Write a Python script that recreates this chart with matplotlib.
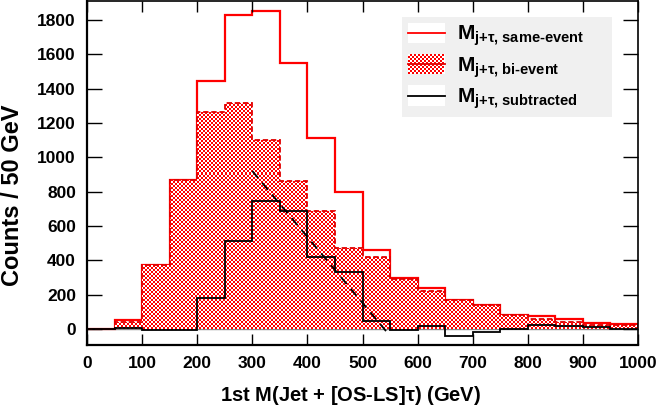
import numpy as np
import matplotlib
matplotlib.use('Agg')
import matplotlib.pyplot as plt
from matplotlib.colors import ListedColormap
from matplotlib.patches import Rectangle
from matplotlib.collections import PatchCollection
from matplotlib.lines import Line2D
from matplotlib.legend_handler import HandlerBase

plt.rcParams['font.family'] = ['Liberation Sans', 'DejaVu Sans']
plt.rcParams['font.weight'] = 'bold'
plt.rcParams['mathtext.fontset'] = 'custom'
plt.rcParams['mathtext.rm'] = 'Liberation Sans:bold'
plt.rcParams['mathtext.it'] = 'Liberation Sans:bold'
plt.rcParams['mathtext.bf'] = 'Liberation Sans:bold'
plt.rcParams['mathtext.default'] = 'rm'

# 50 GeV bins, 0 - 1000 GeV
edges = np.arange(0, 1050, 50)
same_event = [0, 50, 375, 870, 1445, 1830, 1850, 1550, 1115, 800,
              463, 295, 240, 168, 140, 82, 73, 56, 36, 27]
bi_event = [0, 40, 370, 868, 1262, 1314, 1100, 862, 690, 469,
            418, 290, 222, 168, 139, 81, 58, 42, 25, 22]
subtracted = [0, 8, -4, -4, 183, 515, 748, 685, 420, 332,
              48, -4, 17, -42, -16, 2, 25, 17, 10, 2]
# dashed straight-line fit on the falling edge
fit_x = [300, 550]
fit_y = [920, -40]

labels = [r'$M_{\text{j+}\tau\text{, same-event}}$',
          r'$M_{\text{j+}\tau\text{, bi-event}}$',
          r'$M_{\text{j+}\tau\text{, subtracted}}$']

YMIN, YMAX = -93, 1910
W, H = 658, 411
AX_PX = (87, 66, 551, 344)  # left, bottom, width, height in pixels


class SampleHandler(HandlerBase):
    # white box with a line, optionally a red checkerboard behind it
    def __init__(self, color, checker=False):
        super().__init__()
        self.color = color
        self.checker = checker

    def create_artists(self, legend, orig_handle, xdescent, ydescent,
                       width, height, fontsize, trans):
        x0, y0 = -xdescent, -ydescent
        arts = [Rectangle((x0, y0), width, height, facecolor='white',
                          edgecolor='none', transform=trans)]
        if self.checker:
            c = 1.44
            nx, ny = int(width / c), int(height / c)
            sq = [Rectangle((x0 + i * c, y0 + j * c), c, c)
                  for i in range(nx) for j in range(ny) if (i + j) % 2 == 0]
            arts.append(PatchCollection(sq, facecolor='red', edgecolor='none',
                                        transform=trans))
        arts.append(Line2D([x0, x0 + width], [y0 + height / 2] * 2,
                           color=self.color, lw=1.3, transform=trans))
        return arts


fig = plt.figure(figsize=(W / 100, H / 100), dpi=100)
ax = fig.add_axes([AX_PX[0] / W, AX_PX[1] / H, AX_PX[2] / W, AX_PX[3] / H])

ax.axhline(0, color='#888888', lw=1, zorder=0.5)

h_same = ax.stairs(same_event, edges, color='#ff0000', lw=1.6, zorder=1)

# 2 px checkerboard, one array cell per screen pixel, clipped to the bi-event histogram
fill = ax.stairs(bi_event, edges, fill=True, facecolor='none',
                 edgecolor='none', zorder=2)
iy, ix = np.indices((AX_PX[3], AX_PX[2]))
cells = ((iy // 2) + (ix // 2)) % 2
img = ax.imshow(cells, cmap=ListedColormap(['white', '#ff0000']),
                extent=[0, 1000, YMIN, YMAX], aspect='auto',
                interpolation='nearest', zorder=2)
img.set_clip_path(fill)
h_bi = ax.stairs(bi_event, edges, color='#e00000', lw=1.3,
                 linestyle=(0, (3, 1.5)), zorder=2.5)

h_sub = ax.stairs(subtracted, edges, color='black', lw=1.3, zorder=3)
ax.plot(fit_x, fit_y, color='black', lw=1.3, linestyle=(0, (5, 3.5)), zorder=3)

ax.set_xlim(0, 1000)
ax.set_ylim(YMIN, YMAX)
ax.set_xticks(np.arange(0, 1001, 100))
ax.set_yticks(np.arange(0, 1801, 200))
ax.tick_params(axis='both', which='major', direction='in', top=True,
               right=True, labelsize=12.5, width=1, pad=8)
ax.tick_params(axis='x', length=8)
ax.tick_params(axis='y', length=11)
for lab in ax.get_xticklabels() + ax.get_yticklabels():
    lab.set_fontweight('bold')
for side in ['left', 'bottom']:
    ax.spines[side].set_linewidth(1.6)
for side in ['top', 'right']:
    ax.spines[side].set_linewidth(1.2)

ax.set_xlabel(r'1st M(Jet + [OS-LS]$\tau$) (GeV)', fontsize=14.5, fontweight='bold')
ax.xaxis.set_label_coords(0.478, -0.112)
ax.set_ylabel('Counts / 50 GeV', fontsize=17, fontweight='bold')
ax.yaxis.set_label_coords(-0.114, 0.436)

# legend box spans x 402-612 px, y 17-115 px (from top)
leg = ax.legend([h_same, h_bi, h_sub], labels,
                handler_map={h_same: SampleHandler('#ff0000'),
                             h_bi: SampleHandler('#e00000', checker=True),
                             h_sub: SampleHandler('black')},
                loc='upper left', mode='expand',
                bbox_to_anchor=(0.5717, 0.6686, 0.3813, 0.285),
                borderaxespad=0, fontsize=15, handlelength=1.78,
                handleheight=1.12, handletextpad=0.58, borderpad=0.28,
                labelspacing=0.28, fancybox=False, framealpha=1,
                facecolor='#f0f0f0', edgecolor='none')
leg.set_zorder(5)

fig.savefig('out.png', dpi=100)
